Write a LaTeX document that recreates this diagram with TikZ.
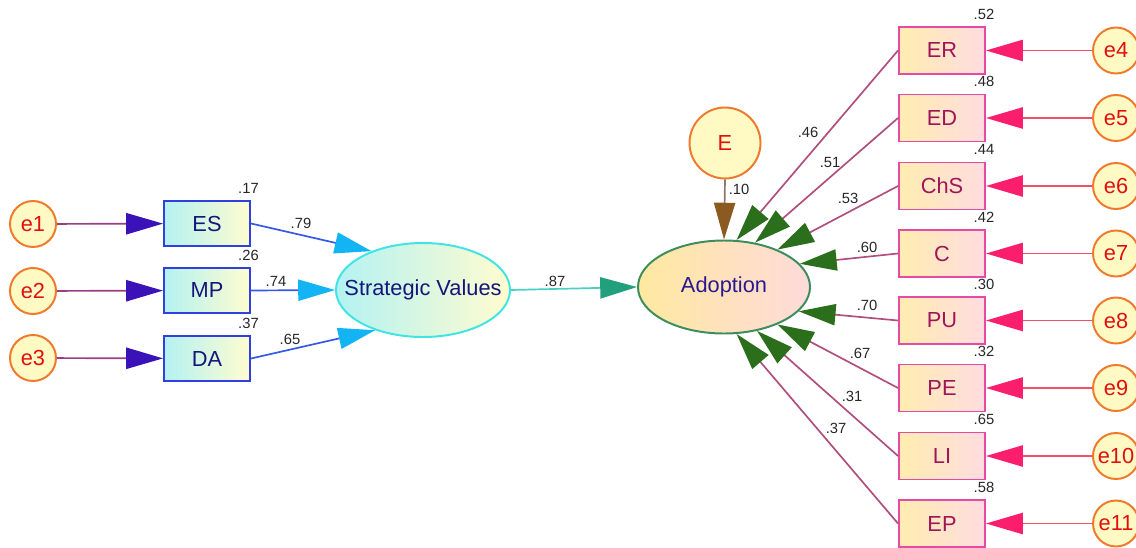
\documentclass[tikz,border=0pt]{standalone}
\usepackage{fontspec}
\setmainfont{Liberation Sans}
\usepackage{xcolor}
\usepackage{tikz}
\usetikzlibrary{arrows.meta}
\usetikzlibrary{shapes.geometric,positioning}
\definecolor{errFill}{HTML}{FFFAC4}
\definecolor{errDraw}{HTML}{F07A2C}
\definecolor{errText}{HTML}{E01010}
\definecolor{obsBlue}{HTML}{2F3FE0}
\definecolor{leftCyan}{HTML}{B4F2F2}
\definecolor{leftYellow}{HTML}{FFFCD0}
\definecolor{textNavy}{HTML}{16167A}
\definecolor{obsPink}{HTML}{E64AA4}
\definecolor{rightYellow}{HTML}{FFEDB0}
\definecolor{rightPink}{HTML}{FFDCE0}
\definecolor{textPlum}{HTML}{A0145A}
\definecolor{svDraw}{HTML}{40E4E4}
\definecolor{adoptDraw}{HTML}{3C8C5C}
\definecolor{adoptYellow}{HTML}{FFE9A0}
\definecolor{adoptPink}{HTML}{FFDADA}
\definecolor{adoptText}{HTML}{2A1A90}
\definecolor{errLinkLeft}{HTML}{9A3C86}
\definecolor{headIndigo}{HTML}{3A12B8}
\definecolor{svLink}{HTML}{3558E8}
\definecolor{headCyan}{HTML}{12B4F4}
\definecolor{svOut}{HTML}{48D0C4}
\definecolor{headTeal}{HTML}{22A07E}
\definecolor{eLink}{HTML}{8C7868}
\definecolor{headE}{HTML}{8A5A20}
\definecolor{loadLink}{HTML}{B04E7E}
\definecolor{headGreen}{HTML}{2B6E1C}
\definecolor{errLinkRight}{HTML}{F0506A}
\definecolor{headPink}{HTML}{FA1E6C}
\tikzset{err-node/.style={draw=errDraw, circle, fill=errFill, text=errText, line width=1.4pt, minimum size=11.5mm, inner sep=0pt, font=\fontsize{15.5}{18}\selectfont}}
\tikzset{obs-left/.style={draw=obsBlue, rectangle, line width=1.4pt, left color=leftCyan, right color=leftYellow, text=textNavy, minimum width=21.5mm, minimum height=11.25mm, inner sep=0pt, font=\fontsize{15.5}{18}\selectfont}}
\tikzset{obs-right/.style={draw=obsPink, rectangle, line width=1.4pt, left color=rightYellow, right color=rightPink, text=textPlum, minimum width=21.5mm, minimum height=11.75mm, inner sep=0pt, font=\fontsize{15.5}{18}\selectfont}}
\tikzset{latent-sv/.style={ellipse, draw=svDraw, line width=1.4pt, left color=leftCyan, right color=leftYellow, text=textNavy, minimum width=43.5mm, minimum height=23.5mm, inner sep=0pt, inner xsep=-5mm, font=\fontsize{15.5}{18}\selectfont}}
\tikzset{latent-adopt/.style={ellipse, draw=adoptDraw, line width=1.4pt, left color=adoptYellow, right color=adoptPink, text=adoptText, minimum width=43mm, minimum height=23.25mm, inner sep=0pt, font=\fontsize{15.5}{18}\selectfont}}
\tikzset{coef-label/.style={inner sep=0pt, text=black!85, font=\fontsize{10.5}{12}\selectfont}}
\tikzset{path-head/.style={line width=1.2pt, -{Triangle[length=9.2mm, width=5.3mm, color=#1]}}}

\begin{document}
\begin{tikzpicture}[x=0.25mm, y=-0.25mm]
    \useasboundingbox (0,0) rectangle (1136,547);

    % exogenous side
    \node [err-node] (e1) at (33, 224) {e1};
    \node [err-node] (e2) at (33, 291) {e2};
    \node [err-node] (e3) at (33, 358) {e3};
    \node [obs-left] (es) at (207, 223.5) {ES};
    \node [obs-left] (mp) at (207, 290.5) {MP};
    \node [obs-left] (da) at (207, 358.5) {DA};
    \node [latent-sv] (sv) at (423, 290) {Strategic Values};

    \draw [path-head=headIndigo, errLinkLeft] (e1) -- (es);
    \draw [path-head=headIndigo, errLinkLeft] (e2) -- (mp);
    \draw [path-head=headIndigo, errLinkLeft] (e3) -- (da);
    \draw [path-head=headCyan, svLink] (es.east) -- (sv.143);
    \draw [path-head=headCyan, svLink] (mp.east) -- (sv.west);
    \draw [path-head=headCyan, svLink] (da.east) -- (sv.220);

    \node [coef-label] (es-r2) at ([shift={(-2.5,-12)}]es.north east) {.17};
    \node [coef-label] (mp-r2) at ([shift={(-2.5,-12)}]mp.north east) {.26};
    \node [coef-label] (da-r2) at ([shift={(-2.5,-12)}]da.north east) {.37};
    \node [coef-label] (es-w) at (301, 223) {.79};
    \node [coef-label] (mp-w) at (276, 281) {.74};
    \node [coef-label] (da-w) at (290, 339) {.65};

    % structural path
    \node [latent-adopt] (adopt) at (724, 287) {Adoption};
    \node [err-node, minimum size=17.75mm] (E) at (725, 143) {E};
    \draw [path-head=headTeal, svOut] (sv.east) -- (adopt.west);
    \draw [path-head=headE, eLink] (E.south) -- (adopt.north);
    \node [coef-label] (sv-w) at (555, 281) {.87};
    \node [coef-label] (E-w) at (739, 189) {.10};

    % indicators of adoption
    \node [obs-right] (er) at (942, 50.5) {ER};
    \node [obs-right] (ed) at (942, 118) {ED};
    \node [obs-right] (chs) at (942, 186) {ChS};
    \node [obs-right] (c) at (942, 253.5) {C};
    \node [obs-right] (pu) at (942, 320.5) {PU};
    \node [obs-right] (pe) at (942, 388) {PE};
    \node [obs-right] (li) at (942, 456) {LI};
    \node [obs-right] (ep) at (942, 523.5) {EP};

    \node [err-node] (e4) at (1116, 50.5) {e4};
    \node [err-node] (e5) at (1116, 118) {e5};
    \node [err-node] (e6) at (1116, 186) {e6};
    \node [err-node] (e7) at (1116, 253.5) {e7};
    \node [err-node] (e8) at (1116, 320.5) {e8};
    \node [err-node] (e9) at (1116, 388) {e9};
    \node [err-node] (e10) at (1116, 456) {e10};
    \node [err-node] (e11) at (1116, 523.5) {e11};

    \draw [path-head=headGreen, loadLink] (er.west) -- (adopt.75);
    \draw [path-head=headGreen, loadLink] (ed.west) -- (adopt.55);
    \draw [path-head=headGreen, loadLink] (chs.west) -- (adopt.35);
    \draw [path-head=headGreen, loadLink] (c.west) -- (adopt.17);
    \draw [path-head=headGreen, loadLink] (pu.west) -- (adopt.-18);
    \draw [path-head=headGreen, loadLink] (pe.west) -- (adopt.-35);
    \draw [path-head=headGreen, loadLink] (li.west) -- (adopt.-53);
    \draw [path-head=headGreen, loadLink] (ep.west) -- (adopt.-75);

    \draw [path-head=headPink, errLinkRight] (e4) -- (er);
    \draw [path-head=headPink, errLinkRight] (e5) -- (ed);
    \draw [path-head=headPink, errLinkRight] (e6) -- (chs);
    \draw [path-head=headPink, errLinkRight] (e7) -- (c);
    \draw [path-head=headPink, errLinkRight] (e8) -- (pu);
    \draw [path-head=headPink, errLinkRight] (e9) -- (pe);
    \draw [path-head=headPink, errLinkRight] (e10) -- (li);
    \draw [path-head=headPink, errLinkRight] (e11) -- (ep);

    \node [coef-label] (er-r2) at ([shift={(-2,-12)}]er.north east) {.52};
    \node [coef-label] (ed-r2) at ([shift={(-2,-12)}]ed.north east) {.48};
    \node [coef-label] (chs-r2) at ([shift={(-2,-12)}]chs.north east) {.44};
    \node [coef-label] (c-r2) at ([shift={(-2,-12)}]c.north east) {.42};
    \node [coef-label] (pu-r2) at ([shift={(-2,-12)}]pu.north east) {.30};
    \node [coef-label] (pe-r2) at ([shift={(-2,-12)}]pe.north east) {.32};
    \node [coef-label] (li-r2) at ([shift={(-2,-12)}]li.north east) {.65};
    \node [coef-label] (ep-r2) at ([shift={(-2,-12)}]ep.north east) {.58};

    \node [coef-label] (er-w) at (808, 132) {.46};
    \node [coef-label] (ed-w) at (830, 162) {.51};
    \node [coef-label] (chs-w) at (848, 198) {.53};
    \node [coef-label] (c-w) at (867, 247) {.60};
    \node [coef-label] (pu-w) at (867, 305) {.70};
    \node [coef-label] (pe-w) at (860, 353) {.67};
    \node [coef-label] (li-w) at (852, 396) {.31};
    \node [coef-label] (ep-w) at (836, 428) {.37};
\end{tikzpicture}
\end{document}
